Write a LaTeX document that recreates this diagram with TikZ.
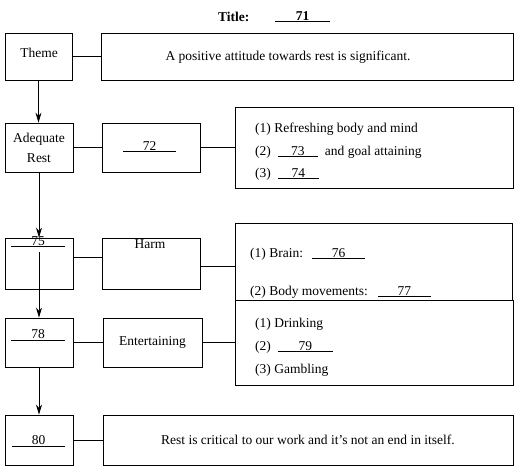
\documentclass[tikz,border=0pt]{standalone}
\usepackage{fontspec}
\setmainfont{Liberation Serif}
\usetikzlibrary{arrows.meta}
\newcommand{\blankfill}[2]{\underline{\hbox to #1pt{\hfil #2\hfil}}}
\begin{document}
\begin{tikzpicture}[x=1pt,y=1pt,
  font=\fontsize{13.5}{20}\selectfont,
  box/.style={draw, line width=0.8pt, inner sep=0pt, align=center},
  txt/.style={inner sep=0pt, anchor=base west},
  ctxt/.style={inner sep=0pt, anchor=base},
  conn/.style={line width=0.8pt},
  arr/.style={line width=0.8pt, -{Stealth[length=10pt,width=6pt]}}]
\useasboundingbox (0,0) rectangle (525,-474);

% title
\node[txt] (title) at (218,-21) {\textbf{Title:}};
\node[txt] (t71) at (275,-20) {\blankfill{55}{\textbf{71}}};

% left column
\node[box, minimum width=67pt, minimum height=47pt] (theme) at (38.5,-56.5) {};
\node[ctxt] (themetxt) at (39,-57) {Theme};
\node[box, minimum width=68pt, minimum height=49pt] (adeq) at (39,-147.5) {Adequate\\Rest};
\node[box, minimum width=68pt, minimum height=51pt] (b75) at (39,-263.5) {};
\node[txt] (t75) at (11,-245) {\blankfill{54}{75}};
\node[box, minimum width=68pt, minimum height=49pt] (b78) at (39,-342.5) {};
\node[txt] (t78) at (11,-338.5) {\blankfill{54}{78}};
\node[box, minimum width=68pt, minimum height=50pt] (b80) at (39,-440) {};
\node[txt] (t80) at (12,-444.5) {\blankfill{53}{80}};

% middle column
\node[box, minimum width=412pt, minimum height=47pt] (stmt1) at (307,-56.5) {};
\node[ctxt] (stmt1txt) at (288,-60.5) {A positive attitude towards rest is significant.};
\node[box, minimum width=98pt, minimum height=49pt] (b72) at (151,-147.5) {};
\node[txt] (t72) at (123,-150) {\blankfill{53}{72}};
\node[box, minimum width=98pt, minimum height=51pt] (harm) at (151,-263.5) {};
\node[ctxt] (harmtxt) at (150,-248) {Harm};
\node[box, minimum width=99pt, minimum height=49pt] (ent) at (152.5,-342.5) {Entertaining};
\node[box, minimum width=410pt, minimum height=50pt] (final) at (308,-440)
  {Rest is critical to our work and it’s not an end in itself.};

% right column
\node[box, minimum width=278pt, minimum height=81pt] (list1) at (374,-147.5) {};
\node[txt] (l11) at (255,-132) {(1) Refreshing body and mind};
\node[txt] (l12) at (255,-155) {(2)\hspace{7pt}\blankfill{40}{73}\hspace{7pt}and goal attaining};
\node[txt] (l13) at (255,-177) {(3)\hspace{7pt}\blankfill{41}{74}};

\node[box, minimum width=277pt, minimum height=86pt] (list2) at (373.5,-266) {};
\node[txt] (l21) at (250,-257) {(1) Brain:\hspace{9pt}\blankfill{53}{76}};
\node[txt] (l22) at (250,-295) {(2) Body movements:\hspace{10pt}\blankfill{53}{77}};

\node[box, fill=white, minimum width=278pt, minimum height=85pt] (list3) at (374,-342.5) {};
\node[txt] (l31) at (255,-327) {(1) Drinking};
\node[txt] (l32) at (255,-350) {(2)\hspace{7pt}\blankfill{55}{79}};
\node[txt] (l33) at (255,-373) {(3) Gambling};

% connectors
\draw[conn] (theme) -- (stmt1);
\draw[conn] (adeq) -- (b72);
\draw[conn] (b72) -- (list1);
\draw[conn] ([yshift=6.5pt]b75.east) -- ([yshift=6.5pt]harm.west);
\draw[conn] (list2.west -| harm.east) -- (list2.west);
\draw[conn] (b78) -- (ent);
\draw[conn] (ent) -- (list3);
\draw[conn] (b80) -- (final);

\draw[arr] (theme.south) -- (theme.south |- adeq.north);
\draw[arr] (adeq.south) -- (adeq.south |- b75.north);
\coordinate (c75) at (39,-252);
\draw[arr] (c75) -- (c75 |- b78.north);
\draw[arr] (b78.south) -- (b78.south |- b80.north);
\end{tikzpicture}
\end{document}
